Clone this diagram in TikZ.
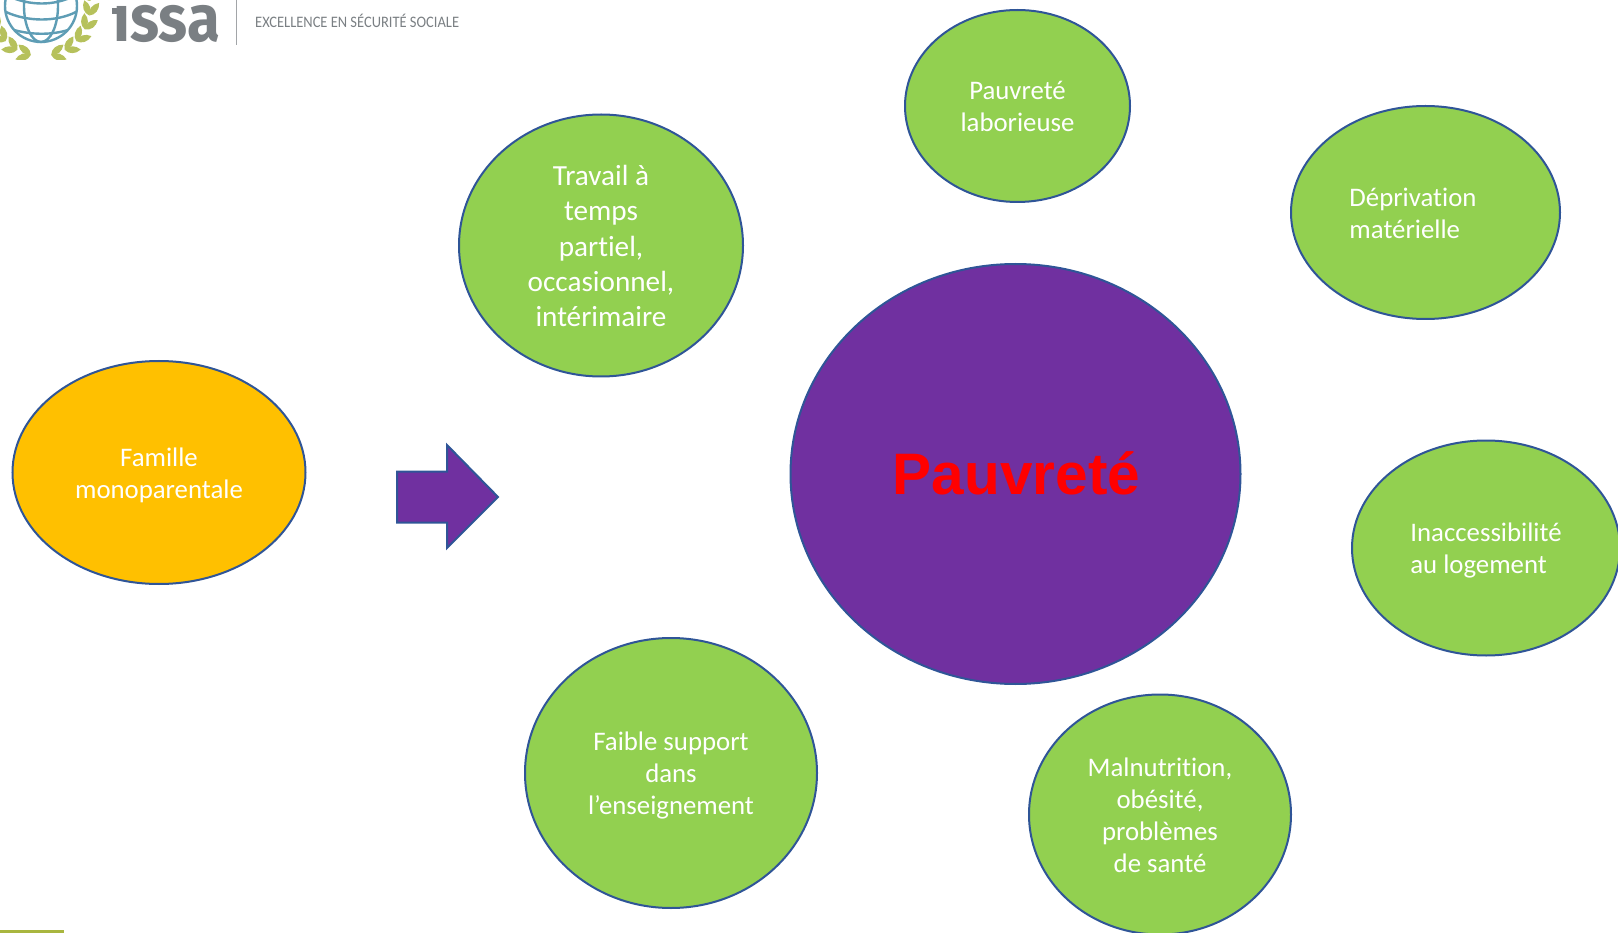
\documentclass[tikz,border=0pt]{standalone}
\usepackage{fontspec}
\setmainfont{Carlito}[Ligatures=NoCommon]
\newfontfamily\boldarial{Liberation Sans}[BoldFont={Liberation Sans Bold}]
\newfontfamily\logofont{Fira Sans}[FakeStretch=0.91]
\newfontfamily\mottofont{Carlito}[FakeStretch=0.905,Ligatures=NoCommon]
\usetikzlibrary{shapes.geometric}
\definecolor{leafgreen}{HTML}{92D050}
\definecolor{amber}{HTML}{FFC000}
\definecolor{royal}{HTML}{7030A0}
\definecolor{edgeblue}{HTML}{2F5597}
\definecolor{logogrey}{HTML}{7A7F83}
\definecolor{globeblue}{HTML}{5E9DB5}
\definecolor{olive}{HTML}{A9B63F}
\tikzset{
  blob/.style={ellipse,draw=edgeblue,line width=2pt,inner sep=0pt,align=center,text=white,font=\fontsize{26.8}{32}\selectfont},
  greenblob/.style={blob,fill=leafgreen},
  blobtext/.style={inner sep=0pt,align=center,text=white,font=\fontsize{26.8}{32}\selectfont},
  leaf/.style={fill=olive!85!white,draw=none},
  blobsize/.style 2 args={minimum width=#1pt,minimum height=#2pt}
}
\newcommand{\leafshape}{(0,0) .. controls (4,-4.6) and (11,-4.6) .. (16,0) .. controls (11,4.6) and (4,4.6) .. (0,0)}
\newcommand{\branch}{%
  \foreach \t in {78,61,44,27,10,-7}{
    \fill[leaf,shift={({49*cos(\t)},{49*sin(\t)})},rotate=90-\t-28] \leafshape;
    \fill[leaf,shift={({49*cos(\t)},{49*sin(\t)})},rotate=90-\t+28] \leafshape;
  }
}
\begin{document}
\begin{tikzpicture}[x=1pt,y=-1pt]
\useasboundingbox (0,0) rectangle (1618,933);
\begin{scope}
\clip (0,0) rectangle (1618,933);
% logo
\begin{scope}
  \clip (-2,-2) rectangle (110,60);
  \begin{scope}[shift={(41,7)}]
    \branch
    \begin{scope}[xscale=-1]
      \branch
    \end{scope}
  \end{scope}
\end{scope}
\begin{scope}[globeblue,line width=2.4pt]
  \draw[fill=white] (41,6) circle (36);
  \draw (41,6) ellipse (17 and 36);
  \draw (8,-4) .. controls (30,6) and (54,6) .. (74,-4);
  \draw (6,12) .. controls (28,22) and (56,22) .. (76,12);
  \draw (14,30) .. controls (32,35) and (52,35) .. (68,30);
\end{scope}
\node[inner sep=0pt,anchor=base west,text=logogrey,font=\logofont\fontsize{66}{66}\selectfont\bfseries] (issa) at (113,42) {ıssa};
\fill[logogrey] (112,8) rectangle (119,14);
\fill[logogrey!70] (235.5,0) rectangle (237,45);
\node[inner sep=0pt,anchor=base west,text=logogrey,font=\mottofont\fontsize{16}{16}\selectfont] (motto) at (255,27.5) {EXCELLENCE EN SÉCURITÉ SOCIALE};
\fill[olive] (0,930) rectangle (64,933);
% shapes
\node[greenblob,blobsize={284}{262},font=\fontsize{29.2}{35.3}\selectfont] (travail) at (601,245.5) {};
\node[blobtext,font=\fontsize{29.2}{35.3}\selectfont] (travailtext) at (601,246) {Travail à\\temps\\partiel,\\occasionnel,\\intérimaire};
\node[greenblob,blobsize={225}{192}] (labor) at (1017.5,106) {};
\node[blobtext] (labortext) at (1017.5,106.5) {Pauvreté\\laborieuse};
\node[greenblob,blobsize={269}{213}] (depr) at (1425.5,212.5) {};
\node[blobtext,align=left] (deprtext) at (1413,213) {Déprivation\\matérielle};
\node[greenblob,blobsize={268}{215}] (inacc) at (1486,548) {};
\node[blobtext,align=left] (inacctext) at (1486,550) {Inaccessibilité\\au logement};
\node[blob,fill=royal,blobsize={450}{420}] (centre) at (1015.5,474) {};
\node[inner sep=0pt,text=red,font=\boldarial\bfseries\fontsize{58.5}{60}\selectfont] (centretext) at (1016.5,473.5) {Pauvreté};
\node[greenblob,blobsize={292}{270}] (faible) at (671,773) {};
\node[blobtext] (faibletext) at (671,775) {Faible support\\dans\\l’enseignement};
\node[greenblob,blobsize={262}{240}] (malnu) at (1160,814.5) {};
\node[blobtext] (malnutext) at (1160,815) {Malnutrition,\\obésité,\\problèmes\\de santé};
\node[blob,fill=amber,blobsize={293}{223}] (famille) at (159,472.5) {};
\node[blobtext] (familletext) at (159,475) {Famille\\monoparentale};
\draw[fill=royal,draw=edgeblue,line width=2pt,line join=miter] (397,471.5) -- (447,471.5) -- (447,445) -- (498,497) -- (447,548) -- (447,522.5) -- (397,522.5) -- cycle;
\end{scope}
\end{tikzpicture}
\end{document}
